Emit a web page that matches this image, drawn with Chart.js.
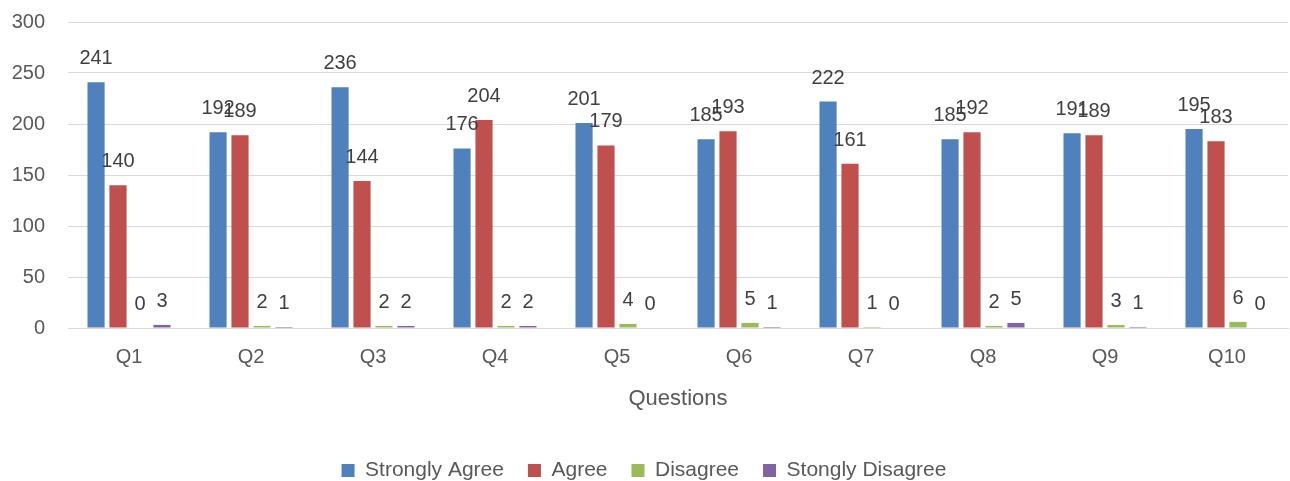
<!DOCTYPE html>
<html>
<head>
<meta charset="utf-8">
<script src="https://cdn.jsdelivr.net/npm/chart.js@4.4.1/dist/chart.umd.min.js"></script>
<style>
  html, body { margin: 0; padding: 0; background: #fff; }
  #wrap { width: 1290px; height: 481px; }
</style>
</head>
<body>
<div id="wrap"><canvas id="chart" width="1290" height="481"></canvas></div>
<script>
const questions = ["Q1", "Q2", "Q3", "Q4", "Q5", "Q6", "Q7", "Q8", "Q9", "Q10"];
const stronglyAgree = [241, 192, 236, 176, 201, 185, 222, 185, 191, 195];
const agree = [140, 189, 144, 204, 179, 193, 161, 192, 189, 183];
const disagree = [0, 2, 2, 2, 4, 5, 1, 2, 3, 6];
const stonglyDisagree = [3, 1, 2, 2, 0, 1, 0, 5, 1, 0];

const FONT = "'Liberation Sans', Arial, sans-serif";

// labels over each bar, like excel "outside end"
const barLabels = {
  id: "barLabels",
  afterDatasetsDraw(chart) {
    const ctx = chart.ctx;
    ctx.save();
    ctx.font = "20px " + FONT;
    ctx.fillStyle = "#404040";
    ctx.textAlign = "center";
    ctx.textBaseline = "alphabetic";
    chart.data.datasets.forEach((ds, i) => {
      chart.getDatasetMeta(i).data.forEach((bar, j) => {
        ctx.fillText(ds.data[j], bar.x, bar.y - 18);
      });
    });
    ctx.restore();
  }
};

const mk = (label, data, color) => ({
  label, data,
  backgroundColor: color,
  borderWidth: 0,
  barPercentage: 0.78,
  categoryPercentage: 0.72
});

new Chart(document.getElementById("chart"), {
  type: "bar",
  data: {
    labels: questions,
    datasets: [
      mk("Strongly Agree", stronglyAgree, "#4F81BD"),
      mk("Agree", agree, "#C0504D"),
      mk("Disagree", disagree, "#9BBB59"),
      mk("Stongly Disagree", stonglyDisagree, "#8064A2")
    ]
  },
  options: {
    responsive: false,
    animation: false,
    layout: { padding: { top: 22, left: 0, right: 2, bottom: -10 } },
    plugins: {
      tooltip: { enabled: false },
      legend: {
        position: "bottom",
        labels: {
          font: { family: FONT, size: 21 },
          color: "#595959",
          boxWidth: 13,
          boxHeight: 13,
          padding: 24
        }
      }
    },
    scales: {
      x: {
        grid: { display: false },
        border: { display: true, color: "#d9d9d9", width: 1 },
        ticks: { font: { family: FONT, size: 20 }, color: "#595959", padding: 9 },
        title: {
          display: true,
          text: "Questions",
          font: { family: FONT, size: 22 },
          color: "#595959",
          padding: { top: 24, bottom: 24 }
        },
        afterFit: s => { s.height = 108; }
      },
      y: {
        min: 0,
        max: 300,
        ticks: { stepSize: 50, font: { family: FONT, size: 20 }, color: "#595959", padding: 23 },
        grid: { color: "#d9d9d9", drawTicks: false },
        border: { display: false },
        afterFit: s => { s.width = 68; s.paddingTop = 0; s.paddingBottom = 0; }
      }
    }
  },
  plugins: [barLabels]
});
</script>
</body>
</html>
